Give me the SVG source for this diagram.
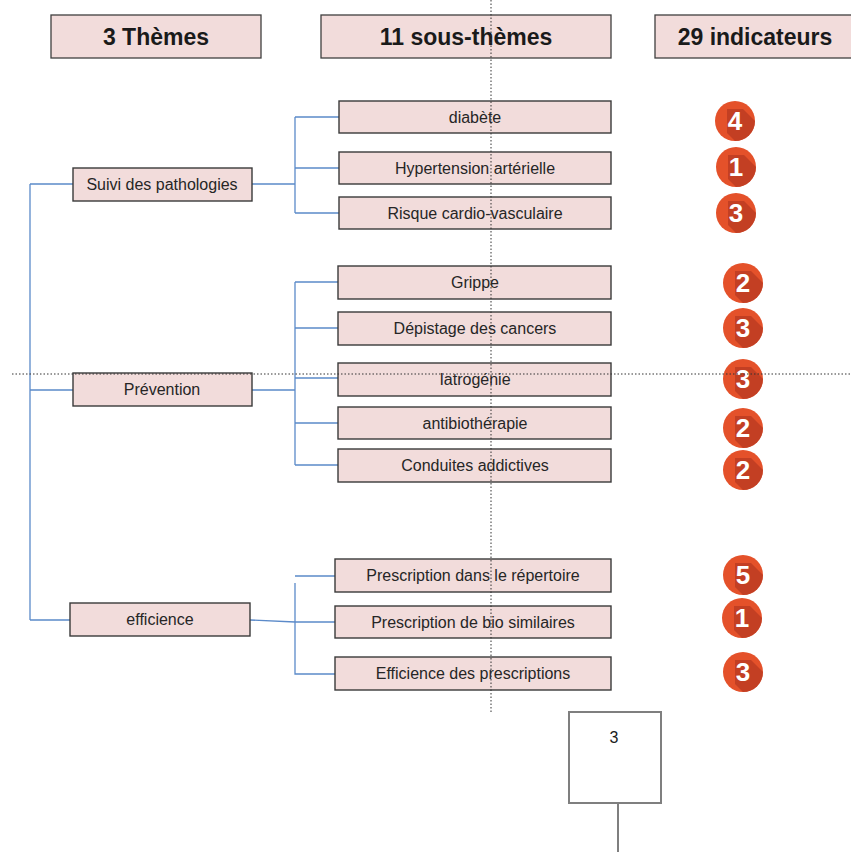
<svg xmlns="http://www.w3.org/2000/svg" width="851" height="852" viewBox="0 0 851 852">
<style>
.hdr{fill:#f2dcdb;stroke:#3f3f3f;stroke-width:1.3}
.hdrt{font-family:"Liberation Sans",Arial,sans-serif;font-weight:bold;font-size:23px;fill:#1a1a1a;text-anchor:middle}
.box{fill:#f2dcdb;stroke:#3a3a3a;stroke-width:1.4}
.bt{font-family:"Liberation Sans",Arial,sans-serif;font-size:16px;fill:#262626;text-anchor:middle}
.con{fill:none;stroke:#5b8ac9;stroke-width:1.3}
.dot{fill:none;stroke:#333;stroke-width:1;stroke-dasharray:1.5 2}
.bc{fill:#e4512a}
.bs{fill:#b83a22;opacity:0.75}
.bn{font-family:"Liberation Sans",Arial,sans-serif;font-weight:bold;font-size:26px;fill:#fff;text-anchor:middle}
</style>
<defs>
<clipPath id="cc"><circle cx="0" cy="0" r="20"/></clipPath>
</defs>
<rect width="851" height="852" fill="#fff"/>

<g id="h1"><rect class="hdr" x="51" y="15" width="210" height="43"/><text class="hdrt" x="156" y="45">3 Thèmes</text></g>
<g id="h2"><rect class="hdr" x="321" y="15" width="290" height="43"/><text class="hdrt" x="466" y="45">11  sous-thèmes</text></g>
<g id="h3"><rect class="hdr" x="655" y="15" width="200" height="43"/><text class="hdrt" x="755" y="45">29  indicateurs</text></g>

<g id="connectors">
<path class="con" d="M30,184 V620 M30,184 H73 M30,390 H73 M30,620 H70"/>
<path class="con" d="M252,184 H295 M295,117 V213 M295,117 H339 M295,168 H339 M295,213 H339"/>
<path class="con" d="M252,390 H295 M295,282 V465 M295,282 H338 M295,328 H338 M295,378 H338 M295,423 H338 M295,465 H338"/>
<path class="con" d="M250,620 L295,622 H335 M295,576 H335 M295,583 V674 H335"/>
</g>

<g id="t1"><rect class="box" x="73" y="168" width="179" height="33"/><text class="bt" x="162" y="190">Suivi des pathologies</text></g>
<g id="t2"><rect class="box" x="73" y="373" width="179" height="33"/><text class="bt" x="162" y="395">Prévention</text></g>
<g id="t3"><rect class="box" x="70" y="603" width="180" height="33"/><text class="bt" x="160" y="625">efficience</text></g>

<g id="s1"><rect class="box" x="339" y="101" width="272" height="32"/><text class="bt" x="475" y="123">diabète</text></g>
<g id="s2"><rect class="box" x="339" y="152" width="272" height="32"/><text class="bt" x="475" y="174">Hypertension artérielle</text></g>
<g id="s3"><rect class="box" x="339" y="197" width="272" height="32"/><text class="bt" x="475" y="219">Risque cardio-vasculaire</text></g>
<g id="s4"><rect class="box" x="338" y="266" width="273" height="33"/><text class="bt" x="475" y="288">Grippe</text></g>
<g id="s5"><rect class="box" x="338" y="312" width="273" height="33"/><text class="bt" x="475" y="334">Dépistage des cancers</text></g>
<g id="s6"><rect class="box" x="338" y="363" width="273" height="33"/><text class="bt" x="475" y="385">Iatrogénie</text></g>
<g id="s7"><rect class="box" x="338" y="407" width="273" height="32"/><text class="bt" x="475" y="429">antibiothérapie</text></g>
<g id="s8"><rect class="box" x="338" y="449" width="273" height="33"/><text class="bt" x="475" y="471">Conduites addictives</text></g>
<g id="s9"><rect class="box" x="335" y="559" width="276" height="33"/><text class="bt" x="473" y="581">Prescription dans le répertoire</text></g>
<g id="s10"><rect class="box" x="335" y="606" width="276" height="32"/><text class="bt" x="473" y="628">Prescription de bio similaires</text></g>
<g id="s11"><rect class="box" x="335" y="657" width="276" height="33"/><text class="bt" x="473" y="679">Efficience des prescriptions</text></g>

<g id="b1" transform="translate(735,121)"><circle class="bc" r="20"/><polygon class="bs" clip-path="url(#cc)" points="-8,-12 8,-12 32,12 32,32 12,32 -8,12"/><text class="bn" y="9">4</text></g>
<g id="b2" transform="translate(736,167)"><circle class="bc" r="20"/><polygon class="bs" clip-path="url(#cc)" points="-8,-12 8,-12 32,12 32,32 12,32 -8,12"/><text class="bn" y="9">1</text></g>
<g id="b3" transform="translate(736,213)"><circle class="bc" r="20"/><polygon class="bs" clip-path="url(#cc)" points="-8,-12 8,-12 32,12 32,32 12,32 -8,12"/><text class="bn" y="9">3</text></g>
<g id="b4" transform="translate(743,283)"><circle class="bc" r="20"/><polygon class="bs" clip-path="url(#cc)" points="-8,-12 8,-12 32,12 32,32 12,32 -8,12"/><text class="bn" y="9">2</text></g>
<g id="b5" transform="translate(743,328)"><circle class="bc" r="20"/><polygon class="bs" clip-path="url(#cc)" points="-8,-12 8,-12 32,12 32,32 12,32 -8,12"/><text class="bn" y="9">3</text></g>
<g id="b6" transform="translate(743,379)"><circle class="bc" r="20"/><polygon class="bs" clip-path="url(#cc)" points="-8,-12 8,-12 32,12 32,32 12,32 -8,12"/><text class="bn" y="9">3</text></g>
<g id="b7" transform="translate(743,428)"><circle class="bc" r="20"/><polygon class="bs" clip-path="url(#cc)" points="-8,-12 8,-12 32,12 32,32 12,32 -8,12"/><text class="bn" y="9">2</text></g>
<g id="b8" transform="translate(743,470)"><circle class="bc" r="20"/><polygon class="bs" clip-path="url(#cc)" points="-8,-12 8,-12 32,12 32,32 12,32 -8,12"/><text class="bn" y="9">2</text></g>
<g id="b9" transform="translate(743,575)"><circle class="bc" r="20"/><polygon class="bs" clip-path="url(#cc)" points="-8,-12 8,-12 32,12 32,32 12,32 -8,12"/><text class="bn" y="9">5</text></g>
<g id="b10" transform="translate(742,618)"><circle class="bc" r="20"/><polygon class="bs" clip-path="url(#cc)" points="-8,-12 8,-12 32,12 32,32 12,32 -8,12"/><text class="bn" y="9">1</text></g>
<g id="b11" transform="translate(743,672)"><circle class="bc" r="20"/><polygon class="bs" clip-path="url(#cc)" points="-8,-12 8,-12 32,12 32,32 12,32 -8,12"/><text class="bn" y="9">3</text></g>

<g id="guides">
<path class="dot" d="M491,0 V712"/>
<path class="dot" d="M12,374 H851"/>
</g>

<g id="n3box"><rect x="569" y="712" width="92" height="91" fill="#fff" stroke="#7f7f7f" stroke-width="2"/><text x="614" y="743" font-family="Liberation Sans,Arial,sans-serif" font-size="16" fill="#1a1a1a" text-anchor="middle">3</text></g>
<g id="n3line"><path d="M618,803 V852" stroke="#7f7f7f" stroke-width="2" fill="none"/></g>
</svg>
